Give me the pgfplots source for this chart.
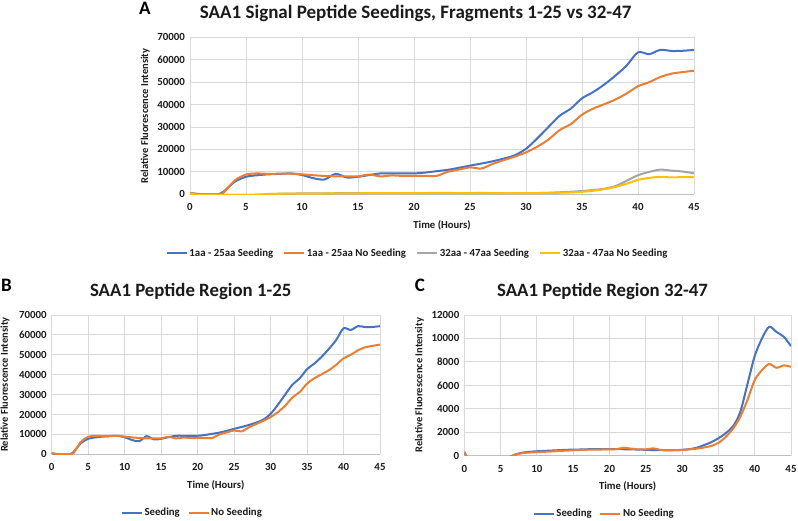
\documentclass[border=0pt]{standalone}
\usepackage{fontspec}
\setmainfont{Carlito}
\usepackage{pgfplots}
\usepackage{pgfplotstable}
\pgfplotsset{compat=1.18}
\definecolor{cblue}{HTML}{4472C4}
\definecolor{corange}{HTML}{ED7D31}
\definecolor{cgray}{HTML}{A5A5A5}
\definecolor{cyellow}{HTML}{FFC000}
\definecolor{gridgray}{HTML}{D9D9D9}
\definecolor{axisgray}{HTML}{BFBFBF}
\definecolor{txt}{HTML}{1A1A1A}

\pgfplotstableread{
t v
0 500
1 0
2 0
2.5 0
3 1200
4 5600
5 7800
6 8500
7 8900
8 9100
9 9300
10 8600
11 7200
12 6600
13 9100
14 7500
15 7800
16 8600
17 9300
18 9300
19 9300
20 9300
21 9700
22 10300
23 10900
24 11800
25 12800
26 13700
27 14700
28 15900
29 17400
30 20300
31 24900
32 30000
33 35000
34 38200
35 42800
36 45600
37 49000
38 53000
39 57500
40 63300
41 62500
42 64400
43 63900
44 64000
45 64400
}\seedA

\pgfplotstableread{
t v
0 600
1 0
2 0
2.5 0
3 700
4 6200
5 8800
6 9300
7 9100
8 9200
9 9200
10 8900
11 8500
12 8200
13 8000
14 8000
15 8000
16 8800
17 8000
18 8400
19 8200
20 8200
21 8200
22 8200
23 10000
24 11000
25 12000
26 11500
27 13500
28 15200
29 16800
30 18700
31 21200
32 24400
33 28600
34 31300
35 35500
36 38200
37 40200
38 42300
39 45000
40 48200
41 50000
42 52300
43 53800
44 54500
45 55100
}\noseedA

\pgfplotstableread{
t v
0 300
0.5 -250
1 -250
3 -250
5.5 -250
7 100
8 260
9 330
10 380
11 410
12 440
13 470
14 500
15 520
16 530
17 550
18 560
19 570
20 570
21 560
22 550
23 540
24 520
25 500
26 480
27 470
28 460
29 470
30 500
31 560
32 680
33 900
34 1150
35 1480
36 1920
37 2500
38 3700
39 6100
40 8500
41 10000
42 11000
43 10550
44 10150
45 9350
}\seedB

\pgfplotstableread{
t v
0 350
0.5 -250
1 -250
3 -250
5.5 -250
7 80
8 220
9 270
10 300
11 330
12 360
13 400
14 430
15 460
16 490
17 510
18 520
19 530
20 540
21 560
22 680
23 600
24 540
25 540
26 630
27 500
28 470
29 470
30 490
31 540
32 600
33 700
34 830
35 1100
36 1600
37 2300
38 3300
39 4750
40 6450
41 7300
42 7820
43 7500
44 7700
45 7580
}\noseedB

\pgfplotsset{
  mystyle/.style={
    scale only axis,
    anchor=south west,
    axis x line*=bottom, axis y line*=left,
    x axis line style={draw=axisgray, -, line width=0.9pt},
    y axis line style={draw=none},
    major tick length=0pt,
    grid=major,
    grid style={draw=gridgray, line width=0.9pt},
    xmin=0, xmax=45, xtick={0,5,...,45},
    ymin=0,
    scaled y ticks=false,
    /pgf/number format/1000 sep={},
    /pgf/number format/assume math mode=true,
    tick label style={font=\bfseries\fontsize{10.9}{12}\selectfont, text=txt},
    xticklabel style={yshift=-6pt},
    yticklabel style={xshift=-1.5pt},
    xlabel={Time (Hours)},
    ylabel={Relative Fluorescence Intensity},
    xlabel style={font=\bfseries\fontsize{10.7}{12}\selectfont, text=txt, anchor=center},
    ylabel style={font=\bfseries\fontsize{10.5}{12}\selectfont, text=txt, anchor=center, rotate=0},
    every axis plot/.append style={line width=2pt, smooth, no markers},
    legend image code/.code={\draw[##1, line width=1.3pt] (0pt,0pt) -- (20pt,0pt);},
    legend style={draw=none, fill=none, font=\bfseries\fontsize{10.8}{12}\selectfont, text=txt,
      legend columns=-1, anchor=center, inner sep=0pt},
  }
}

\begin{document}
\begin{tikzpicture}
\path[use as bounding box] (0pt,0pt) rectangle (798pt,520pt);

% Panel A
\begin{axis}[mystyle,
  at={(190pt,325.7pt)}, width=504pt, height=157pt,
  ymax=70000, ytick={0,10000,...,70000},
  xlabel style={at={(axis description cs:0.5,-0.196)}},
  ylabel style={at={(axis description cs:-0.089,0.5)}},
  legend style={at={(0.452,-0.374)}, /tikz/every even column/.append style={column sep=8.5pt}},
]
\addplot[cblue] table[x=t,y=v] {\seedA};
\addlegendentry{1aa - 25aa Seeding}
\addplot[corange] table[x=t,y=v] {\noseedA};
\addlegendentry{1aa - 25aa No Seeding}
\addplot[cgray] table[x=t,y=v] {\seedB};
\addlegendentry{32aa - 47aa Seeding}
\addplot[cyellow] table[x=t,y=v] {\noseedB};
\addlegendentry{32aa - 47aa No Seeding}
\end{axis}

% Panel B
\begin{axis}[mystyle,
  at={(51.7pt,65.7pt)}, width=328.3pt, height=139.3pt,
  ymax=70000, ytick={0,10000,...,70000},
  xlabel style={at={(axis description cs:0.5,-0.220)}},
  ylabel style={at={(axis description cs:-0.142,0.5)}},
  legend style={at={(0.429,-0.421)}, /tikz/every even column/.append style={column sep=6pt}},
]
\addplot[cblue] table[x=t,y=v] {\seedA};
\addlegendentry{Seeding}
\addplot[corange] table[x=t,y=v] {\noseedA};
\addlegendentry{No Seeding}
\end{axis}

% Panel C
\begin{axis}[mystyle,
  at={(464.3pt,64.3pt)}, width=326.7pt, height=140.7pt,
  ymax=12000, ytick={0,2000,...,12000},
  xlabel style={at={(axis description cs:0.5,-0.215)}},
  ylabel style={at={(axis description cs:-0.137,0.5)}},
  legend style={at={(0.429,-0.414)}, /tikz/every even column/.append style={column sep=6pt}},
]
\addplot[cblue] table[x=t,y=v] {\seedB};
\addlegendentry{Seeding}
\addplot[corange] table[x=t,y=v] {\noseedB};
\addlegendentry{No Seeding}
\end{axis}

% Titles and panel letters
\node[anchor=base, font=\bfseries\fontsize{19}{21}\selectfont, text=txt] at (415.7pt,501pt) {SAA1 Signal Peptide Seedings, Fragments 1-25 vs 32-47};
\node[anchor=base, font=\bfseries\fontsize{18.8}{21}\selectfont, text=txt] at (190.7pt,223.3pt) {SAA1 Peptide Region 1-25};
\node[anchor=base, font=\bfseries\fontsize{18.8}{21}\selectfont, text=txt] at (602.5pt,223.3pt) {SAA1 Peptide Region 32-47};
\node[anchor=base, font=\bfseries\fontsize{19}{21}\selectfont, text=black] at (145pt,505pt) {A};
\node[anchor=base, font=\bfseries\fontsize{19}{21}\selectfont, text=black] at (6.5pt,228pt) {B};
\node[anchor=base, font=\bfseries\fontsize{19}{21}\selectfont, text=black] at (420pt,228pt) {C};
\end{tikzpicture}
\end{document}
